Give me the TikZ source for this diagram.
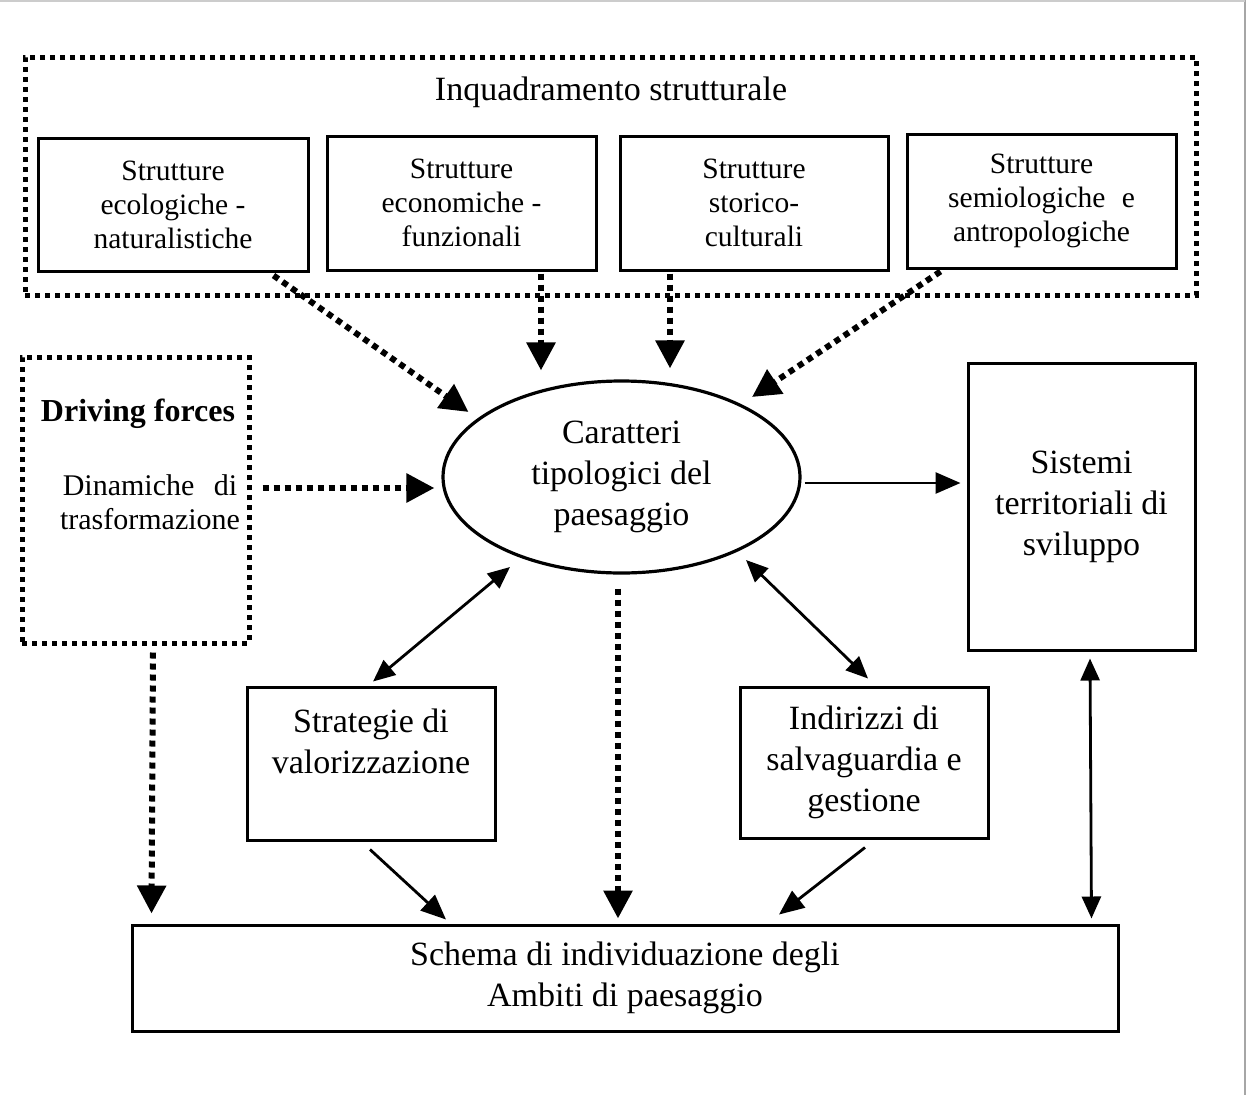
\documentclass[tikz,border=0pt]{standalone}
\usepackage{fontspec}
\setmainfont{Liberation Serif}
\usetikzlibrary{arrows.meta,shapes.geometric,calc}
\tikzset{
  box/.style={draw, line width=3pt, inner sep=0pt, align=center},
  dotbox/.style={draw, line width=5pt, dash pattern=on 5pt off 5pt, inner sep=0pt},
  dotarrow/.style={line width=6pt, dash pattern=on 6pt off 5pt, -{Triangle[length=28pt,width=28pt]}},
  solarrow/.style={line width=2.8pt, -{Triangle[length=25pt,width=21pt]}},
  dblarrow/.style={line width=2.8pt, {Triangle[length=22pt,width=19pt]}-{Triangle[length=22pt,width=19pt]}},
  ftop/.style={font=\fontsize{29.5}{34}\selectfont},
  fbig/.style={font=\fontsize{34}{41}\selectfont},
}
\begin{document}
\begin{tikzpicture}[x=1pt,y=-1pt]
\fill[white] (0,0) rectangle (1258,1095);
\useasboundingbox (0,0) rectangle (1258,1095);
\draw[gray!70, line width=2pt] (1245,0) -- (1245,1095);
\draw[gray!40, line width=1.5pt] (0,1) -- (1245,1);

% top frame
\node[dotbox, minimum width=1171, minimum height=238] (outer) at (610.5,176) {};
\node[fbig] (title) at (611,92) {Inquadramento strutturale};
\node[box, ftop, minimum width=270, minimum height=133] (b1) at (173,204.5) {Strutture\\ecologiche -\\naturalistiche};
\node[box, ftop, minimum width=269, minimum height=134] (b2) at (461.5,203) {Strutture\\economiche -\\funzionali};
\node[box, ftop, minimum width=268, minimum height=134] (b3) at (754,203) {Strutture\\storico-\\culturali};
\node[box, ftop, minimum width=269, minimum height=134] (b4) at (1041.5,201) {Strutture\\semiologiche\hspace{0.3em} e\\antropologiche};

% centre
\node[draw, ellipse, line width=3.2pt, inner sep=0pt, minimum width=357, minimum height=192, align=center, fbig] (ell) at (621.5,477) {Caratteri\\tipologici del\\paesaggio};

% driving forces
\node[dotbox, minimum width=227, minimum height=286] (df) at (135.5,500) {};
\node[font=\fontsize{32}{34}\selectfont\bfseries] (dft) at (138,414) {Driving forces};
\node[align=center, font=\fontsize{30}{34}\selectfont] (dfs) at (150,502) {Dinamiche\hspace{0.4em} di\\trasformazione};

% right box
\node[box, fbig, minimum width=227, minimum height=287] (sis) at (1081.5,506.5) {Sistemi\\territoriali di\\sviluppo};

% middle boxes
\node[box, minimum width=248, minimum height=153] (str) at (371,763.5) {};
\node[fbig, align=center] (strt) at (371,741) {Strategie di\\valorizzazione};
\node[box, fbig, minimum width=248, minimum height=151] (ind) at (864,762.5) {Indirizzi di\\salvaguardia e\\gestione};

% bottom
\node[box, fbig, minimum width=986, minimum height=106] (sch) at (625,978) {Schema di individuazione degli\\Ambiti di paesaggio};

% connectors
\draw[dotarrow] ($(b1.south east)+(-36,3)$) -- ($(ell.center)+(-153,-65)$);
\draw[dotarrow] ($(b2.south)+(79.5,2)$) -- ($(ell.north)+(-80.5,-9)$);
\draw[dotarrow] ($(b3.south)+(-84,2)$) -- ($(ell.north)+(48.5,-11)$);
\draw[dotarrow] ($(b4.south west)+(35,2)$) -- ($(ell.center)+(130.5,-80)$);
\draw[dotarrow] ($(df.east)+(11,-12)$) -- ($(ell.west)+(-7,11)$);
\draw[solarrow] ($(ell.east)+(3,6)$) -- ($(sis.west)+(-6,-23.5)$);
\draw[dblarrow] ($(ell.center)+(-111.5,90)$) -- ($(str.north)+(2,-4)$);
\draw[dblarrow] ($(ell.center)+(124.5,83)$) -- ($(ind.north)+(4,-7)$);
\draw[dotarrow] ($(ell.south)+(-3.5,14)$) -- ($(sch.north)+(-7,-5)$);
\draw[dotarrow] ($(df.south)+(17.5,7)$) -- ($(sch.north west)+(21,-10)$);
\draw[solarrow] ($(str.south)+(-1,8)$) -- ($(sch.north)+(-179,-4)$);
\draw[solarrow] ($(ind.south)+(1,8)$) -- ($(sch.north)+(154,-9)$);
\draw[dblarrow] ($(sis.south)+(8.5,7)$) -- ($(sch.north east)+(-28,-5)$);
\end{tikzpicture}
\end{document}
